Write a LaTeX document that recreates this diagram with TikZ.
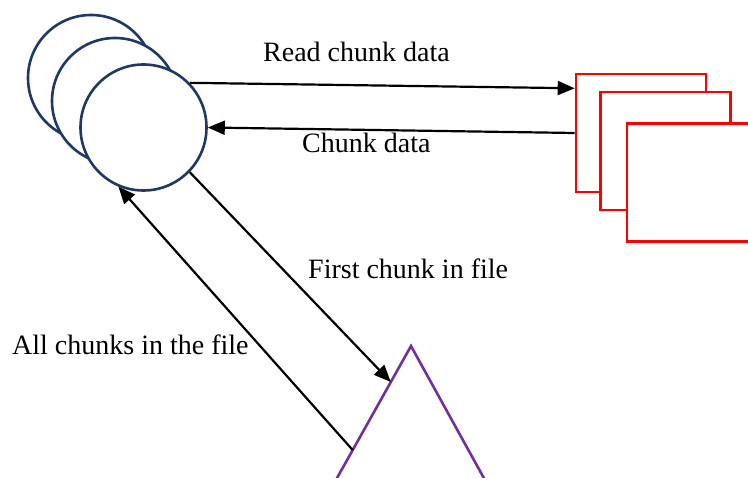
\documentclass[tikz,border=0pt]{standalone}
\usepackage{fontspec}
\setmainfont{Liberation Serif}
\usetikzlibrary{arrows.meta,calc}
\definecolor{navy}{RGB}{31,56,100}
\definecolor{purp}{RGB}{112,48,160}
\begin{document}
\begin{tikzpicture}[x=1pt,y=-1pt,
  proc/.style={circle,draw=navy,line width=2.6pt,fill=white,minimum size=126pt,inner sep=0pt},
  chunkbox/.style={rectangle,draw=red,line width=2.6pt,fill=white,minimum width=130pt,minimum height=118pt,inner sep=0pt},
  conn/.style={line width=2.2pt,-{Triangle[length=17pt,width=14pt]}},
  lbl/.style={inner sep=0pt,anchor=base west,font=\fontsize{28}{33}\selectfont}]
\useasboundingbox (0,0) rectangle (748,478);
\clip (0,0) rectangle (748,478);
% processes
\node[proc] (c1) at (91,78) {};
\node[proc] (c2) at (115,101) {};
\node[proc] (c3) at (143.5,127.5) {};
% chunk boxes
\node[chunkbox] (r1) at (641,133) {};
\node[chunkbox] (r2) at (665.5,151) {};
\node[chunkbox] (r3) at (692,182.5) {};
% triangle
\coordinate (ta) at (411,346);
\coordinate (tl) at (313.5,520);
\coordinate (tr) at (507,520);
\draw[purp,line width=2.6pt,line join=miter] (tl) -- (ta) -- (tr);
\coordinate (tin) at ($(ta)!0.207!(tl)$);
\coordinate (tout) at ($(ta)!0.598!(tl)$);
% connectors
\draw[conn] (c3.44) -- (r1.146);
\draw[conn] (r1.west) -- (c3.east);
\draw[conn] (c3.-44) -- (tin);
\draw[conn] (tout) -- (c3.247);
% labels
\node[lbl] (l1) at (263,62) {Read chunk data};
\node[lbl] (l2) at (302,153) {Chunk data};
\node[lbl] (l3) at (308,279) {First chunk in file};
\node[lbl] (l4) at (12,355) {All chunks in the file};
\end{tikzpicture}
\end{document}
